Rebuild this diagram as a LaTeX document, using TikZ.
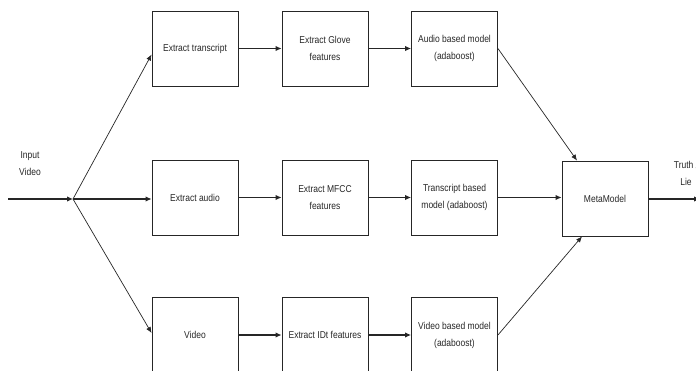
\documentclass[tikz,border=0pt]{standalone}
\usepackage{fontspec}
\setmainfont{Liberation Sans}[FakeStretch=0.85]
\usetikzlibrary{arrows.meta,positioning,calc}
\definecolor{ink}{HTML}{262626}
\tikzset{
  procbox/.style={draw=ink, line width=0.9pt, minimum width=86pt, minimum height=75pt, inner sep=2pt,
    align=center, font=\fontsize{10}{17}\selectfont, text=ink},
  lbl/.style={align=center, font=\fontsize{10}{17}\selectfont, text=ink, inner sep=0pt},
  flow/.style={draw=ink, line width=1.1pt, -{Latex[length=6pt,width=5.5pt]}},
  diag/.style={draw=ink, line width=0.7pt, -{Latex[length=6pt,width=5pt]}},
}
\begin{document}
\begin{tikzpicture}[x=1pt,y=-1pt]
\useasboundingbox (0,0) rectangle (696,370);
\clip (0,0) rectangle (696,370);
% column 1
\node[procbox] (t1) at (195,48.5) {Extract transcript};
\node[procbox] (a1) at (195,197.5) {Extract audio};
\node[procbox] (v1) at (195,335) {Video};
% column 2
\node[procbox] (t2) at (325,48.5) {Extract Glove\\features};
\node[procbox] (a2) at (325,197.5) {Extract MFCC\\features};
\node[procbox] (v2) at (325,335) {Extract IDt features};
% column 3
\node[procbox] (t3) at (454.5,48.5) {Audio based model\\(adaboost)};
\node[procbox] (a3) at (454.5,197.5) {Transcript based\\model (adaboost)};
\node[procbox] (v3) at (454.5,335) {Video based model\\(adaboost)};
% meta
\node[procbox] (m) at (605,198.5) {MetaModel};
% labels
\node[lbl] (inlbl) at (30,164) {Input\\Video};
\node[lbl] (outlbl) at (686,173) {Truth /\\Lie};
% coordinates
\coordinate (src) at (8,199);
\coordinate (jn) at (73,199);
\coordinate (dst) at (700,199);
% connectors
\draw[flow] (src) -- (jn);
\draw[diag] (jn) -- ([yshift=-6pt]t1.west);
\draw[flow] (jn) -- (a1.west |- jn);
\draw[diag] (jn) -- ([yshift=2pt]v1.west);
\draw[flow] (t1) -- (t2);
\draw[flow] (a1) -- (a2);
\draw[flow] (v1) -- (v2);
\draw[flow] (t2) -- (t3);
\draw[flow] (a2) -- (a3);
\draw[flow] (v2) -- (v3);
\draw[diag] (t3.east) -- ([xshift=-28pt]m.north);
\draw[flow] (a3.east) -- (m.west |- a3.east);
\draw[diag] (v3.east) -- ([xshift=-23pt]m.south);
\draw[flow] (m.east |- jn) -- (dst);
\end{tikzpicture}
\end{document}
